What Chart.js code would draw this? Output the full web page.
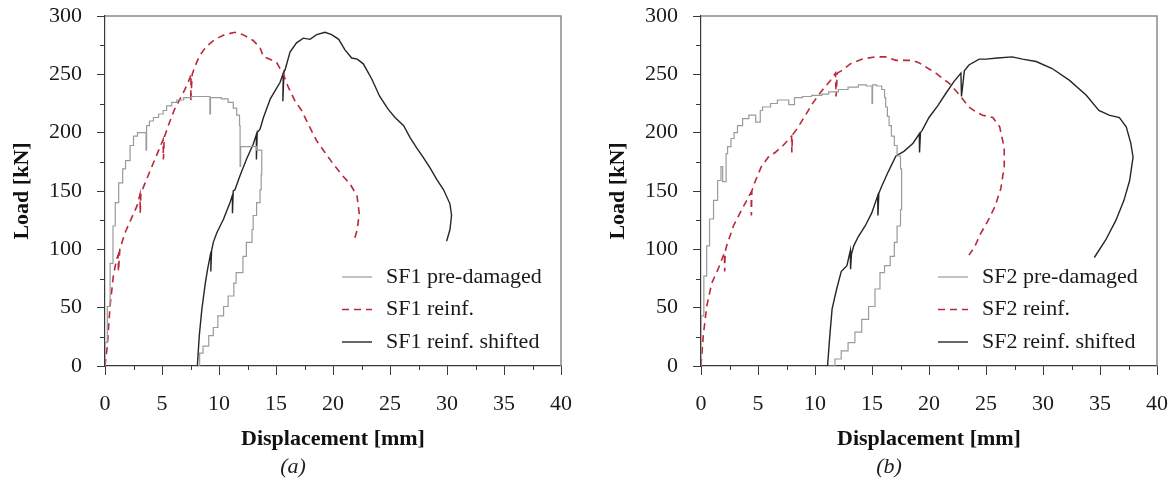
<!DOCTYPE html>
<html>
<head>
<meta charset="utf-8">
<script src="https://cdn.jsdelivr.net/npm/chart.js@4"></script>
<style>
  html, body { margin: 0; padding: 0; background: #fff; overflow: hidden; }
  #wrap { position: relative; width: 1175px; height: 485px; }
  canvas { position: absolute; top: 0; }
  #chartA { left: 0; }
  #chartB { left: 596px; }
  .cap { position: absolute; top: 453px; width: 60px; line-height: 26px; text-align: center;
         font: italic 22px 'Liberation Serif', 'Times New Roman', serif; color: #1e1e1e; }
</style>
</head>
<body>
<div id="wrap">
  <canvas id="chartA" width="580" height="485"></canvas>
  <canvas id="chartB" width="580" height="485"></canvas>
  <div class="cap" style="left:263px">(a)</div>
  <div class="cap" style="left:859px">(b)</div>
</div>
<script>
// tick labels
const dispTicks = [0, 5, 10, 15, 20, 25, 30, 35, 40];
const loadTicks = [0, 50, 100, 150, 200, 250, 300];

// SF1 pre-damaged (stepped record)
const sf1PreX = [0, 0.2, 0.45, 0.7, 0.9, 1.2, 1.55, 1.8, 2.2, 2.5, 2.85, 3.6, 3.65, 3.9, 4.25, 4.7, 5.1, 5.4, 5.85, 6.3, 6.9, 7.6, 8.3, 9.2, 9.25, 10.2, 10.8, 11.25, 11.55, 11.8, 11.85, 11.9, 13.3, 13.75, 13.7, 13.6, 13.3, 13.0, 12.9, 12.4, 12.1, 11.5, 11.3, 10.8, 10.4, 9.9, 9.5, 9.1, 8.6, 8.3, 8.1];
const sf1PreY = [0, 20, 51, 88, 120, 140, 157, 169, 176, 189, 197, 200, 185, 206, 210, 213, 216, 219, 223, 226, 228, 230, 231, 231, 216, 230, 229, 226, 221, 215, 206, 171, 188, 185, 164, 151, 140, 129, 117, 106, 94, 80, 71, 60, 51, 43, 33, 26, 17, 11, 0];
// SF1 reinf.
const sf1ReX = [0, 0.2, 0.44, 0.73, 1.0, 1.15, 1.18, 1.3, 1.75, 2.2, 2.8, 3.07, 3.09, 3.15, 3.65, 4.24, 4.8, 5.1, 5.12, 5.2, 5.55, 6.1, 6.7, 7.3, 7.55, 7.52, 7.65, 7.9, 8.3, 8.9, 9.65, 10.5, 11.4, 12.1, 13.0, 13.6, 13.9, 14.47, 15.06, 15.64, 16.08, 16.67, 17.25, 17.84, 18.57, 19.3, 20.03, 20.76, 21.5, 22.1, 22.3, 22.13, 21.8];
const sf1ReY = [0, 17, 51, 77, 91, 95, 81, 100, 114, 124, 137, 147, 131, 148, 160, 174, 187, 194, 177, 196, 206, 220, 231, 243, 250, 227, 250, 257, 266, 274, 280, 284, 286, 284, 279, 273, 265, 263, 260, 250, 239, 227, 219, 207, 193, 183, 173, 164, 156, 146, 131, 117, 106];
// SF1 reinf. shifted
const sf1ShX = [8.1, 8.27, 8.5, 8.8, 9.0, 9.3, 9.28, 9.35, 9.5, 9.8, 10.4, 10.96, 11.2, 11.18, 11.25, 11.4, 11.84, 12.4, 13.0, 13.3, 13.28, 13.35, 13.6, 13.9, 14.5, 15.35, 15.64, 15.6, 15.7, 15.8, 16.23, 16.8, 17.4, 17.98, 18.57, 19.3, 19.88, 20.5, 21.05, 21.64, 22.13, 22.66, 23.4, 24.1, 24.85, 25.44, 26.2, 26.75, 27.34, 27.9, 28.5, 29.1, 29.7, 30.26, 30.4, 30.26, 29.97];
const sf1ShY = [0, 26, 49, 71, 83, 98, 81, 99, 106, 114, 126, 140, 147, 131, 150, 151, 163, 177, 190, 199, 177, 200, 203, 213, 229, 243, 251, 227, 252, 254, 269, 277, 281, 280, 284, 286, 284, 280, 271, 264, 263, 259, 246, 231, 220, 213, 206, 196, 187, 179, 170, 160, 151, 139, 129, 117, 107];

// SF2 pre-damaged (stepped record)
const sf2PreX = [0, 0.25, 0.5, 0.75, 1.1, 1.46, 1.75, 1.9, 2.2, 2.33, 2.63, 2.9, 3.2, 3.65, 4.2, 4.8, 5.2, 5.4, 6.1, 6.7, 7.7, 8.2, 8.9, 9.7, 10.6, 11.2, 12.05, 12.9, 13.8, 14.5, 15.0, 15.05, 15.4, 15.85, 16.1, 16.2, 16.35, 16.5, 16.7, 16.96, 17.2, 17.5, 17.6, 17.6, 17.5, 17.2, 16.96, 16.6, 16.1, 15.7, 15.26, 14.7, 14.1, 13.5, 12.9, 12.3, 11.75, 11.2];
const sf2PreY = [0, 43, 77, 103, 126, 142, 159, 171, 158, 182, 188, 195, 200, 206, 212, 215, 209, 219, 222, 225, 228, 224, 230, 231, 232, 233, 235, 237, 239, 241, 240, 225, 241, 240, 237, 230, 222, 214, 206, 197, 189, 180, 169, 151, 134, 120, 106, 94, 86, 80, 66, 51, 40, 29, 20, 13, 6, 0];
// SF2 reinf.
const sf2ReX = [0, 0.2, 0.5, 0.94, 1.5, 2.05, 2.08, 2.12, 2.25, 2.84, 3.57, 4.4, 4.42, 4.46, 4.7, 5.3, 5.9, 6.5, 7.2, 7.95, 7.97, 8.02, 8.4, 9.1, 9.85, 10.6, 11.3, 11.8, 11.85, 11.95, 12.3, 13.1, 14.1, 15.3, 16.2, 17.1, 18.5, 19.1, 20.6, 21.8, 22.7, 23.5, 24.1, 24.7, 25.6, 26.2, 26.6, 26.6, 26.3, 25.8, 25.2, 24.5, 24.0, 23.5];
const sf2ReY = [0, 26, 51, 71, 83, 97, 81, 98, 103, 120, 134, 149, 129, 150, 157, 171, 179, 183, 189, 197, 183, 198, 203, 214, 226, 236, 244, 251, 231, 251, 253, 259, 263, 265, 265, 262, 262, 260, 251, 242, 232, 222, 218, 215, 213, 205, 187, 171, 152, 137, 125, 113, 102, 95];
// SF2 reinf. shifted
const sf2ShX = [11.1, 11.3, 11.5, 11.9, 12.3, 12.8, 13.1, 13.12, 13.2, 13.4, 13.8, 14.4, 14.97, 15.5, 15.52, 15.6, 15.85, 16.4, 17.1, 17.8, 18.6, 19.15, 19.17, 19.25, 19.4, 20.0, 20.76, 21.5, 22.2, 22.8, 22.85, 23.1, 23.5, 24.4, 25.0, 26.0, 27.3, 28.2, 29.4, 30.8, 32.3, 33.8, 34.9, 35.8, 36.7, 37.3, 37.7, 37.9, 37.6, 37.1, 36.4, 35.5, 34.5];
const sf2ShY = [0, 26, 49, 66, 81, 86, 99, 83, 96, 103, 111, 120, 131, 146, 129, 148, 154, 166, 180, 184, 191, 199, 183, 200, 202, 213, 223, 234, 244, 251, 231, 253, 258, 263, 263, 264, 265, 263, 261, 255, 245, 232, 219, 215, 213, 205, 191, 179, 159, 142, 125, 108, 93];

const serif = "'Liberation Serif', 'Times New Roman', serif";
Chart.defaults.font.family = serif;
Chart.defaults.color = '#1a1a1a';

// top/right frame, minor ticks and the legend inside the plot
const decor = {
  id: 'decor',
  afterDraw(chart) {
    const { ctx, chartArea: a, scales: { x, y } } = chart;
    ctx.save();
    ctx.strokeStyle = '#8a8a8a';
    ctx.lineWidth = 1.5;
    ctx.beginPath();
    ctx.moveTo(a.left, a.top);
    ctx.lineTo(a.right, a.top);
    ctx.lineTo(a.right, a.bottom);
    ctx.stroke();

    ctx.strokeStyle = '#3a3a3a';
    ctx.lineWidth = 1;
    ctx.beginPath();
    for (let v = 2.5; v < 40; v += 5) {
      const px = Math.round(x.getPixelForValue(v)) + 0.5;
      ctx.moveTo(px, a.bottom);
      ctx.lineTo(px, a.bottom + 4);
    }
    for (let v = 25; v < 300; v += 50) {
      const py = Math.round(y.getPixelForValue(v)) + 0.5;
      ctx.moveTo(a.left, py);
      ctx.lineTo(a.left - 5, py);
    }
    ctx.stroke();

    ctx.font = '22px ' + serif;
    ctx.textBaseline = 'middle';
    chart.data.datasets.forEach((ds, i) => {
      const yy = a.bottom - 89 + i * 32.5;
      ctx.strokeStyle = ds.borderColor;
      ctx.lineWidth = ds.borderWidth;
      ctx.setLineDash(ds.borderDash || []);
      ctx.beginPath();
      ctx.moveTo(a.right - 219, yy);
      ctx.lineTo(a.right - 189, yy);
      ctx.stroke();
      ctx.setLineDash([]);
      ctx.fillStyle = '#1a1a1a';
      ctx.fillText(ds.label, a.right - 175, yy);
    });
    ctx.restore();
  }
};

function pts(xs, ys) {
  return xs.map((v, i) => ({ x: v, y: ys[i] }));
}

function makeChart(id, name, preX, preY, reX, reY, shX, shY) {
  return new Chart(document.getElementById(id), {
    type: 'line',
    data: {
      datasets: [
        { label: name + ' pre-damaged', data: pts(preX, preY), borderColor: '#9b9b9b', borderWidth: 1.2, stepped: 'after' },
        { label: name + ' reinf.', data: pts(reX, reY), borderColor: '#b8293a', borderWidth: 1.6, borderDash: [7, 5] },
        { label: name + ' reinf. shifted', data: pts(shX, shY), borderColor: '#262626', borderWidth: 1.4 }
      ]
    },
    options: {
      responsive: false,
      animation: false,
      layout: { padding: { left: 0, right: 19, top: 16, bottom: 0 } },
      elements: { point: { radius: 0 }, line: { tension: 0, fill: false } },
      plugins: { legend: { display: false }, tooltip: { enabled: false } },
      scales: {
        x: {
          type: 'linear', min: 0, max: 40,
          afterBuildTicks: s => { s.ticks = dispTicks.map(v => ({ value: v })); },
          afterFit: s => { s.height = 119; s.paddingLeft = 0; s.paddingRight = 0; },
          ticks: { padding: 16, font: { size: 22 } },
          grid: { drawOnChartArea: false, tickLength: 9, tickColor: '#3a3a3a' },
          border: { color: '#3a3a3a', width: 1.2 },
          title: { display: true, text: 'Displacement [mm]', color: '#111', font: { size: 22, weight: 'bold' }, padding: { top: 0, bottom: 32 } }
        },
        y: {
          type: 'linear', min: 0, max: 300,
          afterBuildTicks: s => { s.ticks = loadTicks.map(v => ({ value: v })); },
          afterFit: s => { s.width = 105; s.paddingTop = 0; s.paddingBottom = 0; },
          ticks: { padding: 15, font: { size: 22 } },
          grid: { drawOnChartArea: false, tickLength: 8, tickColor: '#3a3a3a' },
          border: { color: '#3a3a3a', width: 1.2 },
          title: { display: true, text: 'Load [kN]', color: '#111', font: { size: 22, weight: 'bold' }, padding: { top: 9, bottom: 0 } }
        }
      }
    },
    plugins: [decor]
  });
}

makeChart('chartA', 'SF1', sf1PreX, sf1PreY, sf1ReX, sf1ReY, sf1ShX, sf1ShY);
makeChart('chartB', 'SF2', sf2PreX, sf2PreY, sf2ReX, sf2ReY, sf2ShX, sf2ShY);
</script>
</body>
</html>
